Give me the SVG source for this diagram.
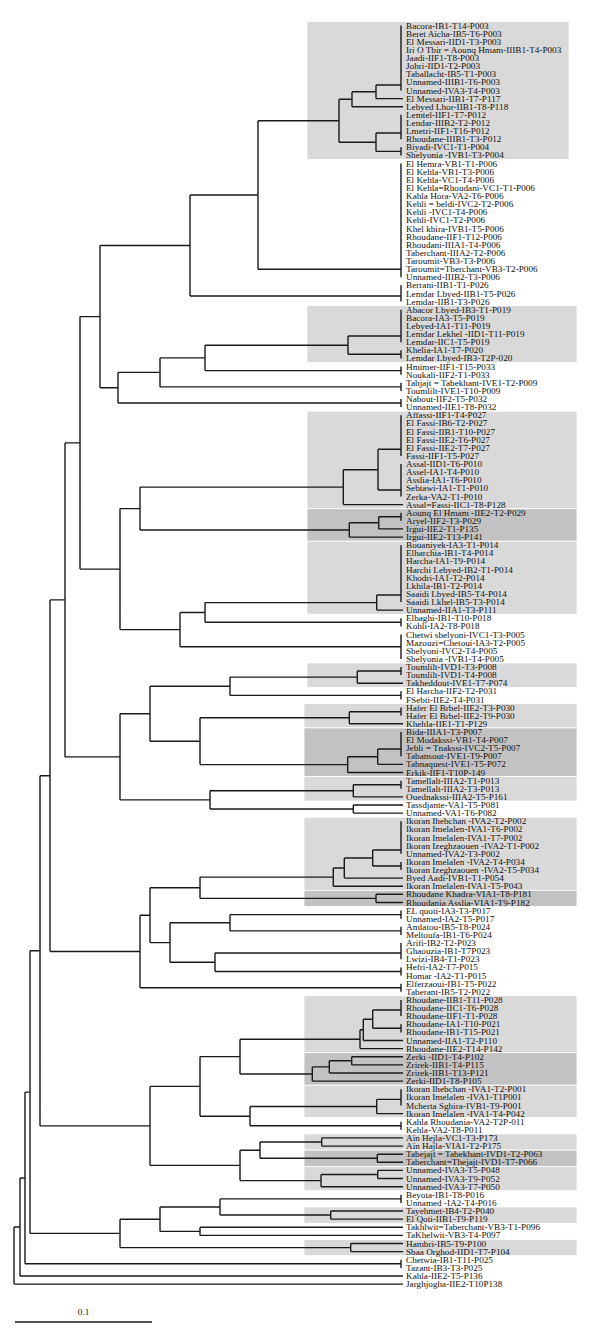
<svg xmlns="http://www.w3.org/2000/svg" width="600" height="1338" viewBox="0 0 600 1338">
<style>
.bg{fill:#fff}
.lt{fill:#d9d9d9;stroke:#fff;stroke-width:0.8}
.dk{fill:#c2c2c2;stroke:#fff;stroke-width:0.8}
.e{stroke:#1a1a1a;stroke-width:1.4;fill:none}
text{font-family:"Liberation Serif","Times New Roman",serif;font-size:9.2px;fill:#111}
</style>
<rect class="bg" x="0" y="0" width="600" height="1338"/>
<g id="clade-boxes">
<rect class="lt" x="307" y="21.4" width="262" height="138.1"/>
<rect class="lt" x="307" y="305.6" width="270" height="56.9"/>
<rect class="lt" x="307" y="411.2" width="270" height="97.5"/>
<rect class="dk" x="307" y="508.7" width="270" height="32.5"/>
<rect class="lt" x="307" y="541.2" width="270" height="73"/>
<rect class="lt" x="307" y="663" width="270" height="24.3"/>
<rect class="lt" x="304" y="703.5" width="273" height="24.4"/>
<rect class="dk" x="304" y="727.9" width="273" height="48.7"/>
<rect class="lt" x="304" y="776.6" width="273" height="24.4"/>
<rect class="lt" x="304" y="817.2" width="273" height="73.1"/>
<rect class="dk" x="304" y="890.3" width="273" height="16.2"/>
<rect class="lt" x="304" y="995.8" width="273" height="56.9"/>
<rect class="dk" x="304" y="1052.7" width="273" height="32.5"/>
<rect class="lt" x="304" y="1085.2" width="273" height="32.4"/>
<rect class="lt" x="304" y="1133.9" width="273" height="16.2"/>
<rect class="dk" x="304" y="1150.1" width="273" height="16.3"/>
<rect class="lt" x="304" y="1166.4" width="273" height="24.3"/>
<rect class="lt" x="304" y="1207" width="273" height="16.2"/>
<rect class="lt" x="304" y="1239.5" width="273" height="16.2"/>
</g>
<g id="connectors" class="e">
<path d="M401 25.5V90.5M376 85V98.6M376 85H401M376 98.6H403M352 91.8V106.7M352 91.8H376M352 106.7H403M401 114.8V139.2M401 147.3V155.4M376 133V151.4M376 133H401M376 151.4H401M339 99.3V142.2M339 99.3H352M339 142.2H376"/>
<path d="M401 163.5V277.2M401 285.3V301.6M401 309.7V342.2M401 350.3V358.4M348 336V354.3M348 336H401M348 354.3H401M401 366.5V374.7M401 382.8V390.9M401 399V407.1"/>
<path d="M401 415.3V455.9M401 464V496.5M378 449.3V490M378 449.3H401M378 490H401M343.3 469.7V504.6M343.3 469.7H378M343.3 504.6H403"/>
<path d="M401 512.7V520.8M378.7 516.8V528.9M378.7 516.8H401M378.7 528.9H403M349.3 522.8V537.1M349.3 522.8H378.7M349.3 537.1H403"/>
<path d="M401 545.2V602M376.7 595V610.1M376.7 595H401M376.7 610.1H403M401 618.3V626.4M401 634.5V658.9"/>
<path d="M401 667V675.1M357.3 671V683.2M357.3 671H401M357.3 683.2H403M401 691.3V699.5M401 707.6V715.7M349.3 711.7V723.8M349.3 711.7H401M349.3 723.8H403"/>
<path d="M401 731.9V756.3M377.7 749V764.4M377.7 749H401M377.7 764.4H403M347.7 756.7V772.5M347.7 756.7H377.7M347.7 772.5H403"/>
<path d="M401 780.7V788.8M353.3 784.7V796.9M353.3 784.7H401M353.3 796.9H403M353.3 805V813.1M353.3 805H403M353.3 813.1H403"/>
<path d="M401 821.3V853.7M401 861.9V870M372.7 850V866M372.7 850H401M372.7 866H401M344.3 858V878.1M344.3 858H372.7M344.3 878.1H403M333.3 868V886.2M333.3 868H344.3M333.3 886.2H403"/>
<path d="M376 894.3V902.5M376 894.3H403M376 902.5H403M401 910.6V918.7M401 926.8V934.9M401 943.1V959.3M401 967.4V975.5M401 983.7V991.8"/>
<path d="M401 999.9V1016.1M401 1024.3V1032.4M372.7 1010V1028.3M372.7 1010H401M372.7 1028.3H401M363.3 1019.2V1040.5M363.3 1019.2H372.7M363.3 1040.5H403M360 1029.8V1048.6M360 1029.8H363.3M360 1048.6H403"/>
<path d="M351.7 1056.7V1064.9M351.7 1056.7H403M351.7 1064.9H403M329.3 1060.8V1073M329.3 1060.8H351.7M329.3 1073H403M312.3 1066.9V1081.1M312.3 1066.9H329.3M312.3 1081.1H403"/>
<path d="M401 1089.2V1105.5M376.7 1099.4V1113.6M376.7 1099.4H401M376.7 1113.6H403M401 1121.7V1129.8M321.7 1137.9V1146.1M321.7 1137.9H403M321.7 1146.1H403M377.3 1154.2V1162.3M377.3 1154.2H403M377.3 1162.3H403"/>
<path d="M377.7 1170.4V1178.5M377.7 1170.4H403M377.7 1178.5H403M321 1174.5V1186.7M321 1174.5H377.7M321 1186.7H403M401 1194.8V1202.9M330.7 1211V1219.1M330.7 1211H403M330.7 1219.1H403M350.7 1243.5V1251.6M350.7 1243.5H403M350.7 1251.6H403M401 1259.7V1267.9"/>
<path d="M258 120.7V269.3M258 120.7H339M258 269.3H401M190 195V296M190 195H258M190 296H401M205 345.2V370.6M205 345.2H348M205 370.6H401M160 357.9V386.9M160 357.9H205M160 386.9H401M118 372.4V403M118 372.4H160M118 403H401M100 245.5V387.7M100 245.5H190M100 387.7H118"/>
<path d="M140 487.1V530M140 487.1H343.3M140 530H349.3M205 602.6V622.3M205 602.6H376.7M205 622.3H401M180 612.5V646.7M180 612.5H205M180 646.7H401M120 508.6V629.6M120 508.6H140M120 629.6H180M80 316.6V569.1M80 316.6H100M80 569.1H120"/>
<path d="M230 677.1V695.4M230 677.1H357.3M230 695.4H401M200 717.7V764.6M200 717.7H349.3M200 764.6H347.7M150 686.3V741.2M150 686.3H230M150 741.2H200M210 790.8V809M210 790.8H353.3M210 809H353.3M120 713.8V799.9M120 713.8H150M120 799.9H210M65 442.9V756.9M65 442.9H80M65 756.9H120"/>
<path d="M200 877.1V898.4M200 877.1H333.3M200 898.4H376M230 914.6V930.9M230 914.6H401M230 930.9H401M215 953V971.5M215 953H401M215 971.5H401M170 922.8V962.3M170 922.8H230M170 962.3H215M150 887.8V942.6M150 887.8H200M150 942.6H170M140 915.2V987.7M140 915.2H150M140 987.7H401M50 599.9V951.5M50 599.9H65M50 951.5H140"/>
<path d="M240 1039.2V1074M240 1039.2H360M240 1074H312.3M250 1106.5V1125.8M250 1106.5H376.7M250 1125.8H401M200 1056.6V1116.2M200 1056.6H240M200 1116.2H250M260 1142V1158.3M260 1142H321.7M260 1158.3H377.3M240 1150.2V1180.6M240 1150.2H260M240 1180.6H321M150 1086.4V1165.4M150 1086.4H200M150 1165.4H240M40 775.7V1125.9M40 775.7H50M40 1125.9H150"/>
<path d="M220 1198.9V1215M220 1198.9H401M220 1215H330.7M200 1227.3V1235.4M200 1227.3H403M200 1235.4H403M160 1207V1231.4M160 1207H220M160 1231.4H200M120 1219.2V1247.6M120 1219.2H160M120 1247.6H350.7M30 950.8V1233.4M30 950.8H40M30 1233.4H120M25 1092.1V1263.8M25 1092.1H30M25 1263.8H401M20 1178V1276M20 1178H25M20 1276H403M14 1227V1284.1M14 1227H20M14 1284.1H403"/>
</g>
<g id="scale-bar">
<path class="e" d="M15 1322H152"/>
<text x="83.5" y="1315" text-anchor="middle">0.1</text>
</g>
<g id="leaves">
<g id="L1"><text x="406" y="28.5">Bacora-IB1-T14-P003</text></g>
<g id="L2"><text x="406" y="36.6">Beret Aïcha-IB5-T6-P003</text></g>
<g id="L3"><text x="406" y="44.7">El Messari-IID1-T3-P003</text></g>
<g id="L4"><text x="406" y="52.9">Iri O Tbir = Aounq Hmam-IIIB1-T4-P003</text></g>
<g id="L5"><text x="406" y="61">Jaadi-IIF1-T8-P003</text></g>
<g id="L6"><text x="406" y="69.1">Johri-IID1-T2-P003</text></g>
<g id="L7"><text x="406" y="77.2">Taballacht-IB5-T1-P003</text></g>
<g id="L8"><text x="406" y="85.3">Unnamed-IIIB1-T6-P003</text></g>
<g id="L9"><text x="406" y="93.5">Unnamed-IVA3-T4-P003</text></g>
<g id="L10"><text x="406" y="101.6">El Messari-IIB1-T7-P117</text></g>
<g id="L11"><text x="406" y="109.7">Lebyed Lhor-IIB1-T8-P118</text></g>
<g id="L12"><text x="406" y="117.8">Lemtel-IIF1-T7-P012</text></g>
<g id="L13"><text x="406" y="125.9">Lendar-IIIB2-T2-P012</text></g>
<g id="L14"><text x="406" y="134.1">Lmetri-IIF1-T16-P012</text></g>
<g id="L15"><text x="406" y="142.2">Rhoudane-IIIB1-T3-P012</text></g>
<g id="L16"><text x="406" y="150.3">Biyadi-IVC1-T1-P004</text></g>
<g id="L17"><text x="406" y="158.4">Shelyonia -IVB1-T3-P004</text></g>
<g id="L18"><text x="406" y="166.5">El Hemra-VB1-T1-P006</text></g>
<g id="L19"><text x="406" y="174.7">El Kehla-VB1-T3-P006</text></g>
<g id="L20"><text x="406" y="182.8">El Kehla-VC1-T4-P006</text></g>
<g id="L21"><text x="406" y="190.9">El Kehla=Rhoudani-VC1-T1-P006</text></g>
<g id="L22"><text x="406" y="199">Kahla Hora-VA2-T6-P006</text></g>
<g id="L23"><text x="406" y="207.1">Kehli = beldi-IVC2-T2-P006</text></g>
<g id="L24"><text x="406" y="215.3">Kehli -IVC1-T4-P006</text></g>
<g id="L25"><text x="406" y="223.4">Kehli-IVC1-T2-P006</text></g>
<g id="L26"><text x="406" y="231.5">Khel kbira-IVB1-T5-P006</text></g>
<g id="L27"><text x="406" y="239.6">Rhoudane-IIF1-T12-P006</text></g>
<g id="L28"><text x="406" y="247.7">Rhoudani-IIIA1-T4-P006</text></g>
<g id="L29"><text x="406" y="255.9">Taberchant-IIIA2-T2-P006</text></g>
<g id="L30"><text x="406" y="264">Taroumit-VB3-T3-P006</text></g>
<g id="L31"><text x="406" y="272.1">Taroumit=Tberchant-VB3-T2-P006</text></g>
<g id="L32"><text x="406" y="280.2">Unnamed-IIIB2-T3-P006</text></g>
<g id="L33"><text x="406" y="288.3">Berrani-IIB1-T1-P026</text></g>
<g id="L34"><text x="406" y="296.5">Lemdar Lbyed-IIB1-T5-P026</text></g>
<g id="L35"><text x="406" y="304.6">Lemdar-IIB1-T3-P026</text></g>
<g id="L36"><text x="406" y="312.7">Abacor Lbyed-IB3-T1-P019</text></g>
<g id="L37"><text x="406" y="320.8">Bacora-IA3-T5-P019</text></g>
<g id="L38"><text x="406" y="328.9">Lebyed-IA1-T11-P019</text></g>
<g id="L39"><text x="406" y="337.1">Lemdar Lekhel -IID1-T11-P019</text></g>
<g id="L40"><text x="406" y="345.2">Lemdar-IIC1-T5-P019</text></g>
<g id="L41"><text x="406" y="353.3">Khelia-IA1-T7-P020</text></g>
<g id="L42"><text x="406" y="361.4">Lemdar Lbyed-IB3-T2P-020</text></g>
<g id="L43"><text x="406" y="369.5">Hmimer-IIF1-T15-P033</text></g>
<g id="L44"><text x="406" y="377.7">Noukali-IIF2-T1-P033</text></g>
<g id="L45"><text x="406" y="385.8">Tahjajt = Tabekhant-IVE1-T2-P009</text></g>
<g id="L46"><text x="406" y="393.9">Toumlilt-IVE1-T10-P009</text></g>
<g id="L47"><text x="406" y="402">Nabout-IIF2-T5-P032</text></g>
<g id="L48"><text x="406" y="410.1">Unnamed-IIE1-T8-P032</text></g>
<g id="L49"><text x="406" y="418.3">Affassi-IIF1-T4-P027</text></g>
<g id="L50"><text x="406" y="426.4">El Fassi-IB6-T2-P027</text></g>
<g id="L51"><text x="406" y="434.5">El Fassi-IIB1-T10-P027</text></g>
<g id="L52"><text x="406" y="442.6">El Fassi-IIE2-T6-P027</text></g>
<g id="L53"><text x="406" y="450.7">El Fassi-IIE2-T7-P027</text></g>
<g id="L54"><text x="406" y="458.9">Fassi-IIF1-T5-P027</text></g>
<g id="L55"><text x="406" y="467">Assal-IID1-T6-P010</text></g>
<g id="L56"><text x="406" y="475.1">Assel-IA1-T4-P010</text></g>
<g id="L57"><text x="406" y="483.2">Asslia-IA1-T6-P010</text></g>
<g id="L58"><text x="406" y="491.3">Sebtawi-IA1-T1-P010</text></g>
<g id="L59"><text x="406" y="499.5">Zerka-VA2-T1-P010</text></g>
<g id="L60"><text x="406" y="507.6">Assal=Fassi-IIC1-T8-P128</text></g>
<g id="L61"><text x="406" y="515.7">Aounq El Hmam -IIE2-T2-P029</text></g>
<g id="L62"><text x="406" y="523.8">Aryel-IIF2-T3-P029</text></g>
<g id="L63"><text x="406" y="531.9">Irgui-IIE2-T1-P135</text></g>
<g id="L64"><text x="406" y="540.1">Irgui-IIE2-T13-P141</text></g>
<g id="L65"><text x="406" y="548.2">Bouaniyek-IA3-T1-P014</text></g>
<g id="L66"><text x="406" y="556.3">Elharchia-IB1-T4-P014</text></g>
<g id="L67"><text x="406" y="564.4">Harcha-IA1-T9-P014</text></g>
<g id="L68"><text x="406" y="572.5">Harchi Lebyed-IB2-T1-P014</text></g>
<g id="L69"><text x="406" y="580.7">Khodri-IA1-T2-P014</text></g>
<g id="L70"><text x="406" y="588.8">Lkhila-IB1-T2-P014</text></g>
<g id="L71"><text x="406" y="596.9">Saaidi Lbyed-IB5-T4-P014</text></g>
<g id="L72"><text x="406" y="605">Saaidi Lkhel-IB5-T3-P014</text></g>
<g id="L73"><text x="406" y="613.1">Unnamed-IIA1-T3-P111</text></g>
<g id="L74"><text x="406" y="621.3">Elbaghi-IB1-T10-P018</text></g>
<g id="L75"><text x="406" y="629.4">Kohli-IA2-T8-P018</text></g>
<g id="L76"><text x="406" y="637.5">Chetwi sbelyoni-IVC1-T3-P005</text></g>
<g id="L77"><text x="406" y="645.6">Mazouzi=Chetoui-IA3-T2-P005</text></g>
<g id="L78"><text x="406" y="653.7">Sbelyoni-IVC2-T4-P005</text></g>
<g id="L79"><text x="406" y="661.9">Sbelyonia -IVB1-T4-P005</text></g>
<g id="L80"><text x="406" y="670">Toumlilt-IVD1-T3-P008</text></g>
<g id="L81"><text x="406" y="678.1">Toumlilt-IVD1-T4-P008</text></g>
<g id="L82"><text x="406" y="686.2">Takheddout-IVE1-T7-P074</text></g>
<g id="L83"><text x="406" y="694.3">El Harcha-IIF2-T2-P031</text></g>
<g id="L84"><text x="406" y="702.5">FSebti-IIE2-T4-P031</text></g>
<g id="L85"><text x="406" y="710.6">Hafer El Brbel-IIE2-T3-P030</text></g>
<g id="L86"><text x="406" y="718.7">Hafer El Brbel-IIE2-T9-P030</text></g>
<g id="L87"><text x="406" y="726.8">Khehla-IIE1-T1-P129</text></g>
<g id="L88"><text x="406" y="734.9">Bida-IIIA1-T3-P007</text></g>
<g id="L89"><text x="406" y="743.1">El Modakssi-VB1-T4-P007</text></g>
<g id="L90"><text x="406" y="751.2">Jebli = Tnakssi-IVC2-T5-P007</text></g>
<g id="L91"><text x="406" y="759.3">Tabansout-IVE1-T9-P007</text></g>
<g id="L92"><text x="406" y="767.4">Tabnaquest-IVE1-T5-P072</text></g>
<g id="L93"><text x="406" y="775.5">Erkik-IIF1-T10P-149</text></g>
<g id="L94"><text x="406" y="783.7">Tamellalt-IIIA2-T1-P013</text></g>
<g id="L95"><text x="406" y="791.8">Tamellalt-IIIA2-T3-P013</text></g>
<g id="L96"><text x="406" y="799.9">Ouednakssi-IIIA2-T5-P161</text></g>
<g id="L97"><text x="406" y="808">Tassdjante-VA1-T5-P081</text></g>
<g id="L98"><text x="406" y="816.1">Unnamed-VA1-T6-P082</text></g>
<g id="L99"><text x="406" y="824.3">Ikoran Ihebchan -IVA2-T2-P002</text></g>
<g id="L100"><text x="406" y="832.4">Ikoran Imelalen-IVA1-T6-P002</text></g>
<g id="L101"><text x="406" y="840.5">Ikoran Imelalen-IVA1-T7-P002</text></g>
<g id="L102"><text x="406" y="848.6">Ikoran Izeghzaouen  -IVA2-T1-P002</text></g>
<g id="L103"><text x="406" y="856.7">Unnamed-IVA2-T3-P002</text></g>
<g id="L104"><text x="406" y="864.9">Ikoran Imelalen -IVA2-T4-P034</text></g>
<g id="L105"><text x="406" y="873">Ikoran Izeghzaouen -IVA2-T5-P034</text></g>
<g id="L106"><text x="406" y="881.1">Byed Aadi-IVB1-T1-P054</text></g>
<g id="L107"><text x="406" y="889.2">Ikoran Imelalen-IVA1-T5-P043</text></g>
<g id="L108"><text x="406" y="897.3">Rhoudane Khadra-VIA1-T8-P181</text></g>
<g id="L109"><text x="406" y="905.5">Rhoudania Asslia-VIA1-T9-P182</text></g>
<g id="L110"><text x="406" y="913.6">EL quoti-IA3-T3-P017</text></g>
<g id="L111"><text x="406" y="921.7">Unnamed-IA2-T5-P017</text></g>
<g id="L112"><text x="406" y="929.8">Amlatou-IB5-T8-P024</text></g>
<g id="L113"><text x="406" y="937.9">Meltoufa-IB1-T6-P024</text></g>
<g id="L114"><text x="406" y="946.1">Arifi-IB2-T2-P023</text></g>
<g id="L115"><text x="406" y="954.2">Ghaouzia-IB1-T7P023</text></g>
<g id="L116"><text x="406" y="962.3">Lwizi-IB4-T1-P023</text></g>
<g id="L117"><text x="406" y="970.4">Hefri-IA2-T7-P015</text></g>
<g id="L118"><text x="406" y="978.5">Homar -IA2-T1-P015</text></g>
<g id="L119"><text x="406" y="986.7">Elferzaoui-IB1-T5-P022</text></g>
<g id="L120"><text x="406" y="994.8">Taberant-IB5-T2-P022</text></g>
<g id="L121"><text x="406" y="1002.9">Rhoudane-IIB1-T11-P028</text></g>
<g id="L122"><text x="406" y="1011">Rhoudane-IIC1-T6-P028</text></g>
<g id="L123"><text x="406" y="1019.1">Rhoudane-IIF1-T1-P028</text></g>
<g id="L124"><text x="406" y="1027.3">Rhoudane-IA1-T10-P021</text></g>
<g id="L125"><text x="406" y="1035.4">Rhoudane-IB1-T15-P021</text></g>
<g id="L126"><text x="406" y="1043.5">Unnamed-IIA1-T2-P110</text></g>
<g id="L127"><text x="406" y="1051.6">Rhoudane-IIE2-T14-P142</text></g>
<g id="L128"><text x="406" y="1059.7">Zerki -IID1-T4-P102</text></g>
<g id="L129"><text x="406" y="1067.9">Zrirek-IIB1-T4-P115</text></g>
<g id="L130"><text x="406" y="1076">Zrirek-IIB1-T13-P121</text></g>
<g id="L131"><text x="406" y="1084.1">Zerki-IID1-T8-P105</text></g>
<g id="L132"><text x="406" y="1092.2">Ikoran Ihebchan -IVA1-T2-P001</text></g>
<g id="L133"><text x="406" y="1100.3">Ikoran Imelalen -IVA1-T1P001</text></g>
<g id="L134"><text x="406" y="1108.5">Mcherta Sghira-IVB1-T9-P001</text></g>
<g id="L135"><text x="406" y="1116.6">Ikoran Imelalen -IVA1-T4-P042</text></g>
<g id="L136"><text x="406" y="1124.7">Kahla Rhoudania-VA2-T2P-011</text></g>
<g id="L137"><text x="406" y="1132.8">Kehla-VA2-T8-P011</text></g>
<g id="L138"><text x="406" y="1140.9">Aïn Hejla-VC1-T3-P173</text></g>
<g id="L139"><text x="406" y="1149.1">Aïn Hajla-VIA1-T2-P175</text></g>
<g id="L140"><text x="406" y="1157.2">Tabejajt = Tabekhant-IVD1-T2-P063</text></g>
<g id="L141"><text x="406" y="1165.3">Taberchant=Thejajt-IVD1-T7-P066</text></g>
<g id="L142"><text x="406" y="1173.4">Unnamed-IVA3-T5-P048</text></g>
<g id="L143"><text x="406" y="1181.5">Unnamed-IVA3-T9-P052</text></g>
<g id="L144"><text x="406" y="1189.7">Unnamed-IVA3-T7-P050</text></g>
<g id="L145"><text x="406" y="1197.8">Beyota-IB1-T8-P016</text></g>
<g id="L146"><text x="406" y="1205.9">Unnamed -IA2-T4-P016</text></g>
<g id="L147"><text x="406" y="1214">Tayehmet-IB4-T2-P040</text></g>
<g id="L148"><text x="406" y="1222.1">El Qoti-IIB1-T9-P119</text></g>
<g id="L149"><text x="406" y="1230.3">Takhlwit=Taberchant-VB3-T1-P096</text></g>
<g id="L150"><text x="406" y="1238.4">TaKhelwit-VB3-T4-P097</text></g>
<g id="L151"><text x="406" y="1246.5">Hambri-IB5-T9-P100</text></g>
<g id="L152"><text x="406" y="1254.6">Sbaa Orghod-IID1-T7-P104</text></g>
<g id="L153"><text x="406" y="1262.7">Chetwia-IB1-T11-P025</text></g>
<g id="L154"><text x="406" y="1270.9">Tazant-IB3-T3-P025</text></g>
<g id="L155"><text x="406" y="1279">Kahla-IIE2-T5-P136</text></g>
<g id="L156"><text x="406" y="1287.1">Jarghjogha-IIE2-T10P138</text></g>
</g>
</svg>
